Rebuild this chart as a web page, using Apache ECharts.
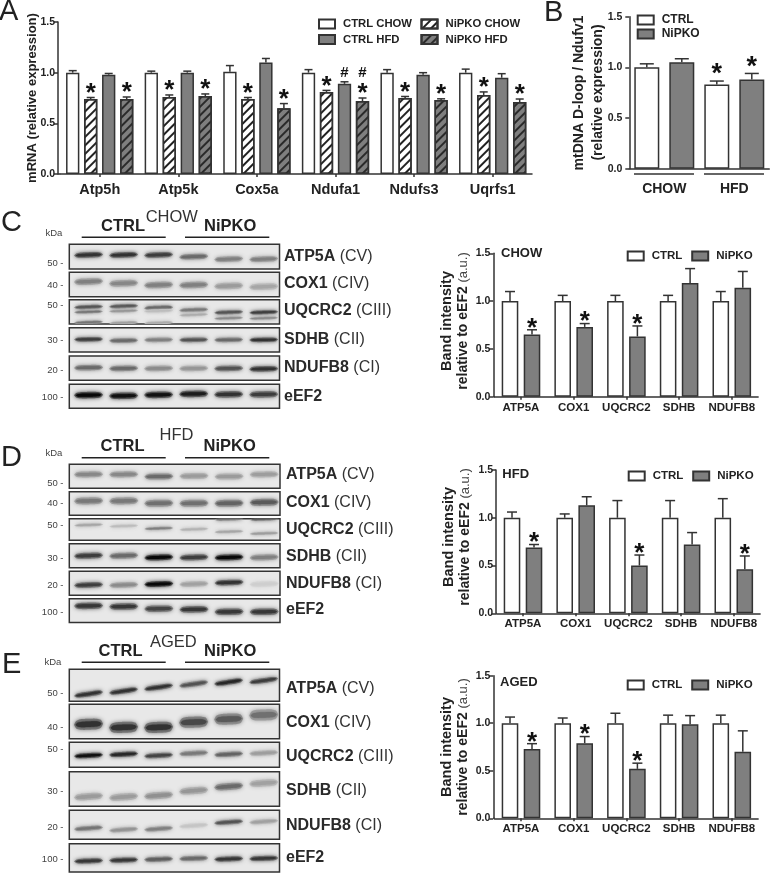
<!DOCTYPE html>
<html><head><meta charset="utf-8">
<style>html,body{margin:0;padding:0;background:#fff}#c{width:770px;height:873px}</style>
<script src="https://cdn.jsdelivr.net/npm/echarts@6/dist/echarts.min.js"></script>
</head><body><div id="c"></div>
<script>
// ---------- data ----------
const A_genes = ['Atp5h','Atp5k','Cox5a','Ndufa1','Ndufs3','Uqrfs1'];
const A_ctrlChow = [1.00,1.00,1.01,1.00,1.00,1.00];
const A_ctrlChowErr = [0.02,0.015,0.06,0.03,0.03,0.035];
const A_nipkoChow = [0.74,0.76,0.74,0.81,0.75,0.78];
const A_nipkoChowErr = [0.015,0.02,0.015,0.015,0.015,0.03];
const A_ctrlHfd = [0.98,1.00,1.10,0.89,0.98,0.95];
const A_ctrlHfdErr = [0.012,0.015,0.04,0.02,0.02,0.04];
const A_nipkoHfd = [0.74,0.77,0.65,0.72,0.73,0.71];
const A_nipkoHfdErr = [0.02,0.02,0.045,0.03,0.012,0.03];
// marks: 0 none, 1 star, 2 hash, 3 star and hash
const A_ctrlChowMarks = [0,0,0,0,0,0];
const A_nipkoChowMarks = [1,1,1,1,1,1];
const A_ctrlHfdMarks = [0,0,0,2,0,0];
const A_nipkoHfdMarks = [1,1,1,3,1,1];

const B_groups = ['CHOW','HFD'];
const B_ctrl = [1.00,0.83], B_ctrlErr = [0.035,0.035], B_ctrlMarks = [0,1];
const B_nipko = [1.05,0.88], B_nipkoErr = [0.035,0.06], B_nipkoMarks = [0,1];

const proteins = ['ATP5A','COX1','UQCRC2','SDHB','NDUFB8'];
const C_ctrl = [1,1,1,1,1], C_ctrlErr = [0.10,0.06,0.06,0.06,0.10];
const C_nipko = [0.65,0.73,0.63,1.19,1.14], C_nipkoErr = [0.05,0.035,0.11,0.15,0.17];
const C_marks = [1,1,1,0,0];
const D_ctrl = [1,1,1,1,1], D_ctrlErr = [0.06,0.04,0.18,0.18,0.20];
const D_nipko = [0.69,1.13,0.50,0.72,0.46], D_nipkoErr = [0.03,0.09,0.11,0.125,0.14];
const D_marks = [1,0,1,0,1];
const E_ctrl = [1,1,1,1,1], E_ctrlErr = [0.065,0.055,0.105,0.085,0.085];
const E_nipko = [0.73,0.79,0.52,0.99,0.70], E_nipkoErr = [0.055,0.07,0.06,0.09,0.22];
const E_marks = [1,1,1,0,0];
const noMarks = [0,0,0,0,0];
const yTicks = [0,0.5,1,1.5];

// blot rows
const blotRowNames = [['ATP5A','(CV)'],['COX1','(CIV)'],['UQCRC2','(CIII)'],['SDHB','(CII)'],['NDUFB8','(CI)'],['eEF2','']];
const C_kDa = ['50 -','40 -','50 -','30 -','20 -','100 -'];
const D_kDa = ['50 -','40 -','50 -','30 -','20 -','100 -'];
const E_kDa = ['50 -','40 -','50 -','30 -','20 -','100 -'];
// band centre within a row (0 top, 1 bottom) for the six lanes
const C_bandY = [[.43,.43,.43,.5,.6,.6],[.38,.45,.52,.52,.56,.59],[.3,.27,.33,.42,.52,.52],[.48,.53,.5,.5,.5,.5],[.48,.51,.51,.51,.51,.53],[.45,.48,.44,.4,.42,.42]];
const C_bandDark = [[.8,.8,.75,.55,.45,.45],[.45,.42,.45,.45,.33,.28],[.65,.65,.65,.5,.65,.75],[.75,.55,.45,.65,.55,.8],[.55,.55,.4,.35,.65,.8],[1,.95,.95,.9,.8,.75]];
const D_bandY = [[.42,.42,.51,.49,.51,.42],[.39,.39,.49,.49,.49,.45],[.29,.34,.45,.49,.6,.68],[.5,.5,.57,.57,.57,.57],[.57,.57,.53,.53,.47,.53],[.3,.33,.42,.45,.55,.55]];
const D_bandDark = [[.42,.42,.55,.33,.33,.32],[.48,.48,.52,.52,.58,.62],[.28,.18,.45,.22,.28,.32],[.75,.55,1,.75,1,.45],[.75,.4,1.1,.3,.8,.1],[.78,.78,.72,.78,.78,.78]];
const E_bandY = [[.77,.68,.56,.46,.4,.35],[.58,.67,.67,.52,.43,.31],[.53,.48,.53,.44,.48,.43],[.72,.73,.69,.55,.43,.33],[.62,.67,.64,.53,.41,.39],[.61,.58,.55,.52,.54,.52]];
const E_bandDark = [[.8,.8,.8,.65,.85,.75],[.8,.8,.8,.7,.62,.52],[.95,.85,.72,.48,.58,.32],[.33,.33,.38,.35,.55,.3],[.5,.36,.45,.14,.65,.3],[.78,.78,.6,.55,.78,.78]];
// extra bands: row, lane, y, darkness
const C_extra = [[2,0,.5,.5],[2,1,.46,.35],[2,2,.46,.18],[2,3,.62,.25],[2,4,.76,.4],[2,5,.76,.4],[2,0,.93,.5],[2,1,.95,.3],[2,2,.95,.25]];
const D_extra = [[2,4,.02,.5],[2,5,.02,.6]];
const E_extra = [];

// ---------- layout and style ----------
const FONT = '"Liberation Sans", Arial, sans-serif';
const INK = '#222', EDGE = '#333', GREY = '#7f7f7f';
const BLOT = {
  C:{rows:[[244.3,269],[272.3,296.7],[299.7,324],[327.7,352],[356,380.3],[384.3,408.3]],left:69.3,right:279.5,
     thick:[5.5,6.5,4,4.5,5.5,6.5],tilt:[1,1,1,0.5,0.5,0.5],
     labelX:284,labelY:[256.7,284,311,339.5,368,396.5],kdaY:[263.3,285,305,340,370,397.3]},
  D:{rows:[[464.3,488.3],[491.7,515.3],[518.7,540.3],[543.7,567.7],[571.3,595.3],[598.7,622.5]],left:69.3,right:280,
     thick:[6,7,3,6,5.5,6.5],tilt:[0.5,0.5,1,1,1,0.5],
     labelX:286,labelY:[475,502.7,530,556.7,584,610],kdaY:[483.3,503.3,525,558.3,585.7,612.7]},
  E:{rows:[[669.3,701.3],[704.3,738.7],[742.3,767.3],[771.7,806.3],[810.3,839.3],[843.7,872]],left:69.3,right:279.5,
     thick:[5,11,5,7,4.5,5],tilt:[4,1,1.5,2,2,1],
     labelX:286,labelY:[688.3,722.7,756.7,791,826,857.3],kdaY:[693.3,727.7,749.3,791.7,827.3,859.3]}
};

const grids=[],xAxes=[],yAxes=[],series=[],legends=[],graphics=[];

function txt(text,x,y,o){o=o||{};
  const style={text,fontFamily:FONT,fontSize:o.size||11,fontWeight:o.weight||'normal',fill:o.fill||INK,textAlign:o.align||'left',textVerticalAlign:'middle'};
  if(o.rich)style.rich=o.rich;
  graphics.push({type:'text',x,y,rotation:o.rot||0,silent:true,style});
}
function line(x1,y1,x2,y2,w,c){graphics.push({type:'line',silent:true,shape:{x1,y1,x2,y2},style:{stroke:c||EDGE,lineWidth:w||1.5}});}
const barFill=(f,hatch)=>{
  const s={color:f,borderColor:EDGE,borderWidth:1.5};
  if(hatch)s.decal={symbol:'rect',symbolSize:1,color:hatch,dashArrayX:[1,0],dashArrayY:[1.1,3.6],rotation:-Math.PI/4};
  return s;
};

function barPanel(cfg){
  const gi=grids.length;
  grids.push({left:cfg.left,top:cfg.top,width:cfg.width,height:cfg.height});
  xAxes.push({gridIndex:gi,type:'category',data:cfg.cats,axisLine:{lineStyle:{color:EDGE,width:1.5}},
    axisTick:{show:cfg.xTick!==false,alignWithLabel:true,length:3,lineStyle:{color:EDGE,width:1.5}},
    axisLabel:{color:INK,fontFamily:FONT,fontWeight:'bold',fontSize:cfg.catSize,margin:cfg.catMargin,interval:0}});
  yAxes.push({gridIndex:gi,type:'value',min:0,max:1.5,interval:0.5,offset:cfg.yOffset||0,splitLine:{show:false},
    axisLine:{show:true,lineStyle:{color:EDGE,width:1.5}},axisTick:{show:true,length:4,lineStyle:{color:EDGE,width:1.5}},
    axisLabel:{color:INK,fontFamily:FONT,fontWeight:'bold',fontSize:10.5,margin:cfg.labelMargin||3,formatter:v=>v.toFixed(1),customValues:yTicks}});
  if(cfg.yOffset)line(cfg.left-cfg.yOffset,cfg.top+cfg.height,cfg.left,cfg.top+cfg.height);
  const n=cfg.series.length;
  cfg.series.forEach((s,k)=>{
    series.push({type:'bar',name:s.name,xAxisIndex:gi,yAxisIndex:gi,data:s.values,barWidth:cfg.barW,barGap:((cfg.pitch-cfg.barW)/cfg.barW*100)+'%',itemStyle:s.style,silent:true,animation:false});
  });
  cfg.series.forEach((s,k)=>{
    const off=(k-(n-1)/2)*cfg.pitch;
    series.push({type:'custom',xAxisIndex:gi,yAxisIndex:gi,silent:true,animation:false,z:5,clip:false,
      data:s.values.map((v,i)=>[i,v,s.err[i],s.marks[i]]),
      renderItem:(p,api)=>{
        const tip=api.coord([api.value(0),api.value(1)+api.value(2)]);
        const base=api.coord([api.value(0),api.value(1)]);
        const x=tip[0]+off, cap=cfg.cap/2, ls={stroke:EDGE,lineWidth:1.5};
        const ch=[{type:'line',shape:{x1:x,y1:base[1],x2:x,y2:tip[1]},style:ls},{type:'line',shape:{x1:x-cap,y1:tip[1],x2:x+cap,y2:tip[1]},style:ls}];
        const m=api.value(3);
        const mk=(t,yy,size)=>ch.push({type:'text',x,y:yy,style:{text:t,fontFamily:FONT,fontWeight:'bold',fontSize:size,fill:'#111',textAlign:'center',textVerticalAlign:'middle'}});
        if(m===1||m===3)mk('*',tip[1]-cfg.starGap+cfg.starSize*0.24,cfg.starSize);
        if(m===2)mk('#',tip[1]-9,15);
        if(m===3)mk('#',tip[1]-25,15);
        return {type:'group',children:ch};
      }});
  });
}
function leg(name,x,y,size){
  legends.push({data:[name],left:x,top:y,padding:0,itemWidth:16,itemHeight:9,icon:'rect',selectedMode:false,orient:'horizontal',
    textStyle:{color:INK,fontFamily:FONT,fontWeight:'bold',fontSize:size||11,padding:[0,0,0,3]}});
}

function blot(key,bandY,bandDark,extra,kda,head){
  const b=BLOT[key];
  b.rows.forEach((r,ri)=>{
    const gi=grids.length;
    grids.push({show:true,left:b.left,top:r[0],width:b.right-b.left,height:r[1]-r[0],backgroundColor:'#e8e8e8',borderColor:EDGE,borderWidth:1.5,z:1});
    xAxes.push({gridIndex:gi,type:'value',min:-0.55,max:5.45,show:false});
    yAxes.push({gridIndex:gi,type:'value',min:0,max:1,inverse:true,show:false});
    const data=bandY[ri].map((y,l)=>[l,y,bandDark[ri][l],b.thick[ri]]);
    extra.filter(e=>e[0]===ri).forEach(e=>data.push([e[1],e[2],e[3],3]));
    const tilt=b.tilt[ri];
    series.push({type:'custom',xAxisIndex:gi,yAxisIndex:gi,silent:true,animation:false,clip:true,z:2,data,
      renderItem:(p,api)=>{
        const c=api.coord([api.value(0),api.value(1)]),d=api.value(2),th=api.value(3),hw=14.5;
        const poly=(scale,dk,blur)=>{
          const top=[],bot=[];
          for(let i=0;i<=14;i++){
            const t=-1+i/7,prof=Math.pow(1-t*t*t*t,0.5)*th*scale/2;
            const yc=c[1]-t*tilt*0.5;
            top.push([c[0]+t*hw*(scale<1?0.9:1),yc-prof]);
            bot.unshift([c[0]+t*hw*(scale<1?0.9:1),yc+prof]);
          }
          const g=Math.max(8,Math.round(228-218*dk));
          const col=`rgb(${g},${g},${g})`;
          return {type:'polygon',shape:{points:top.concat(bot),smooth:0.3},style:{fill:col,shadowBlur:blur,shadowColor:col}};
        };
        return {type:'group',children:[poly(1,d*0.62,4),poly(0.5,Math.min(1.1,d*1.02),2.5)]};
      }});
    const nm=blotRowNames[ri];
    txt(`{b|${nm[0]}}${nm[1]?'{r| '+nm[1]+'}':''}`,b.labelX,b.labelY[ri],{rich:{b:{fontFamily:FONT,fontWeight:'bold',fontSize:16,fill:'#2a2a2a'},r:{fontFamily:FONT,fontSize:16,fill:'#333'}}});
    txt(kda[ri],63.5,b.kdaY[ri],{size:9.5,align:'right',fill:'#444'});
  });
  txt('kDa',head.kdaX,head.kdaY,{size:9.5,fill:'#444'});
  txt('CTRL',head.ctrlX,head.y,{size:16.5,weight:'bold'});
  txt('NiPKO',head.nipkoX,head.y,{size:16.5,weight:'bold'});
  txt(head.title,head.titleX,head.titleY,{size:16.5,fill:'#333'});
  line(81.7,head.lineY,165.7,head.lineY,1.6,'#222');
  line(185,head.lineY,269.3,head.lineY,1.6,'#222');
}

function bandPanel(cfg){
  barPanel({left:cfg.left,top:cfg.top,width:263.5,height:cfg.height,yOffset:cfg.left-cfg.axisX,cats:proteins,catSize:11.5,catMargin:5,
    barW:16.6,pitch:22,cap:10,starGap:7.5,starSize:26,
    series:[{name:'CTRL',values:cfg.ctrl,err:cfg.ctrlErr,marks:noMarks,style:barFill('#fff')},
            {name:'NiPKO',values:cfg.nipko,err:cfg.nipkoErr,marks:cfg.marks,style:barFill(GREY)}]});
  txt(cfg.title,cfg.titleX,cfg.titleY,{size:13,weight:'bold'});
  leg('CTRL',cfg.legX,cfg.legY,11.5);
  leg('NiPKO',cfg.legX+64.5,cfg.legY,11.5);
  txt('Band intensity',cfg.nameX,cfg.nameY,{size:14.5,weight:'bold',align:'center',rot:Math.PI/2});
  txt('{b|relative to eEF2}{r| (a.u.)}',cfg.nameX+16.5,cfg.nameY,{align:'center',rot:Math.PI/2,
    rich:{b:{fontFamily:FONT,fontWeight:'bold',fontSize:14,fill:INK},r:{fontFamily:FONT,fontSize:13,fill:'#444'}}});
}

// ---------- panel A ----------
barPanel({left:60.4,top:22,width:471.6,height:152,yOffset:2.4,cats:A_genes,catSize:14.5,catMargin:8,barW:13.3,pitch:18,cap:8,starGap:10,starSize:26,
  series:[
    {name:'CTRL CHOW',values:A_ctrlChow,err:A_ctrlChowErr,marks:A_ctrlChowMarks,style:barFill('#fff')},
    {name:'NiPKO CHOW',values:A_nipkoChow,err:A_nipkoChowErr,marks:A_nipkoChowMarks,style:barFill('#fff','#222')},
    {name:'CTRL HFD',values:A_ctrlHfd,err:A_ctrlHfdErr,marks:A_ctrlHfdMarks,style:barFill(GREY)},
    {name:'NiPKO HFD',values:A_nipkoHfd,err:A_nipkoHfdErr,marks:A_nipkoHfdMarks,style:barFill(GREY,'#2a2a2a')}]});
leg('CTRL CHOW',318,18.5,11.3);leg('NiPKO CHOW',420.5,18.5,11.3);leg('CTRL HFD',318,34,11.3);leg('NiPKO HFD',420.5,34,11.3);
txt('mRNA (relative expression)',32,98,{size:13,weight:'bold',align:'center',rot:Math.PI/2});

// ---------- panel B ----------
barPanel({left:629.3,top:16.7,width:140,height:152,labelMargin:7,cats:B_groups,catSize:14,catMargin:13,xTick:false,barW:25,pitch:35,cap:14,starGap:12.5,starSize:27,
  series:[{name:'CTRL',values:B_ctrl,err:B_ctrlErr,marks:B_ctrlMarks,style:barFill('#fff')},
          {name:'NiPKO',values:B_nipko,err:B_nipkoErr,marks:B_nipkoMarks,style:barFill(GREY)}]});
leg('CTRL',636.7,14,12);leg('NiPKO',636.7,28,12);
line(634,174,694,174);line(704,174,764,174);
txt('mtDNA D-loop / Ndufv1',579.3,93,{size:14,weight:'bold',align:'center',rot:Math.PI/2});
txt('(relative expression)',597.7,92.5,{size:14,weight:'bold',align:'center',rot:Math.PI/2});

// ---------- blots ----------
blot('C',C_bandY,C_bandDark,C_extra,C_kDa,{kdaX:45.5,kdaY:233,ctrlX:101,nipkoX:204,y:226,title:'CHOW',titleX:145.7,titleY:217.7,lineY:237.3});
blot('D',D_bandY,D_bandDark,D_extra,D_kDa,{kdaX:45.5,kdaY:453.3,ctrlX:100.5,nipkoX:203.5,y:446.7,title:'HFD',titleX:159.5,titleY:435,lineY:457.7});
blot('E',E_bandY,E_bandDark,E_extra,E_kDa,{kdaX:44.5,kdaY:662.3,ctrlX:98.5,nipkoX:204,y:651,title:'AGED',titleX:150,titleY:642.3,lineY:662.3});

// ---------- band charts ----------
bandPanel({left:494.65,axisX:493.3,top:253.3,height:143.4,ctrl:C_ctrl,ctrlErr:C_ctrlErr,nipko:C_nipko,nipkoErr:C_nipkoErr,marks:C_marks,title:'CHOW',titleX:501,titleY:253,legX:626.7,legY:250,nameX:447,nameY:321});
bandPanel({left:496.65,axisX:496,top:470,height:143.3,ctrl:D_ctrl,ctrlErr:D_ctrlErr,nipko:D_nipko,nipkoErr:D_nipkoErr,marks:D_marks,title:'HFD',titleX:502.3,titleY:474,legX:627.7,legY:470,nameX:449,nameY:537});
bandPanel({left:494.65,axisX:493.3,top:675.7,height:142.6,ctrl:E_ctrl,ctrlErr:E_ctrlErr,nipko:E_nipko,nipkoErr:E_nipkoErr,marks:E_marks,title:'AGED',titleX:500,titleY:682.7,legX:626.7,legY:679,nameX:447,nameY:747});

// ---------- panel letters ----------
[['A',-1,12],['B',544,13],['C',1,223],['D',1,458],['E',2,665]].forEach(l=>txt(l[0],l[1],l[2],{size:29,fill:'#222'}));

const chart=echarts.init(document.getElementById('c'),null,{renderer:'canvas'});
chart.setOption({animation:false,backgroundColor:'#fff',grid:grids,xAxis:xAxes,yAxis:yAxes,legend:legends,series,graphic:{elements:graphics}});
</script></body></html>
